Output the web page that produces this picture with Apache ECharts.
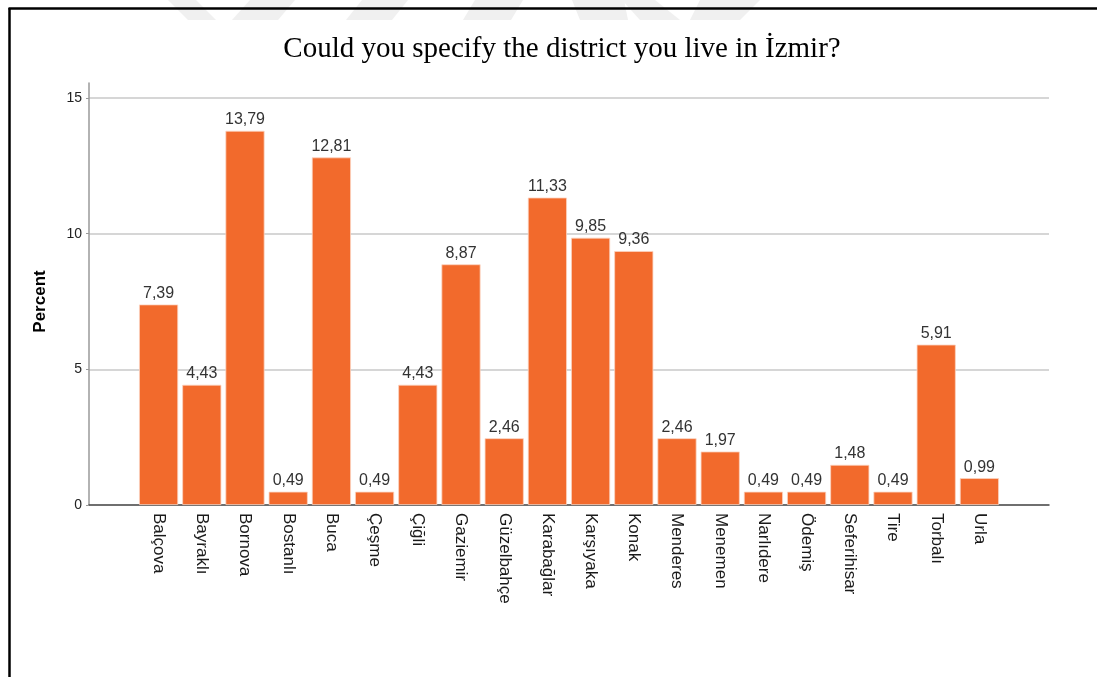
<!DOCTYPE html>
<html>
<head>
<meta charset="utf-8">
<style>
  html, body { margin: 0; padding: 0; background: #fff; }
  #chart { width: 1097px; height: 677px; }
</style>
<script src="https://cdn.jsdelivr.net/npm/echarts@6/dist/echarts.min.js"></script>
</head>
<body>
<div id="chart"></div>
<script>
// District of residence in İzmir, percent of respondents
const districts = ['Balçova', 'Bayraklı', 'Bornova', 'Bostanlı', 'Buca', 'Çeşme', 'Çiğli', 'Gaziemir',
  'Güzelbahçe', 'Karabağlar', 'Karşıyaka', 'Konak', 'Menderes', 'Menemen', 'Narlıdere', 'Ödemiş',
  'Seferihisar', 'Tire', 'Torbalı', 'Urla'];
const percents = [7.39, 4.43, 13.79, 0.49, 12.81, 0.49, 4.43, 8.87, 2.46, 11.33, 9.85, 9.36,
  2.46, 1.97, 0.49, 0.49, 1.48, 0.49, 5.91, 0.99];
const yTicks = [0, 5, 10, 15];

const SANS = '"Liberation Sans", Arial, sans-serif';
const SERIF = '"Liberation Serif", "Times New Roman", serif';
const BAR_COLOR = '#f26a2c';

const chart = echarts.init(document.getElementById('chart'), null, { renderer: 'canvas' });

// Faint background logo stripes along the top edge
const stripe = (pts) => ({
  type: 'polygon', silent: true, z: -10,
  shape: { points: pts }, style: { fill: '#f0f0f0' }
});

chart.setOption({
  animation: false,
  backgroundColor: '#ffffff',
  title: {
    text: 'Could you specify the district you live in İzmir?',
    left: 557, top: 30, textAlign: 'center',
    textStyle: { fontFamily: SERIF, fontSize: 29, fontWeight: 'normal', color: '#000' }
  },
  graphic: [
    stripe([[168, 0], [196, 0], [216, 20], [188, 20]]),
    stripe([[250, 0], [295, 0], [278, 20], [232, 20]]),
    stripe([[362, 0], [408, 0], [392, 20], [346, 20]]),
    stripe([[475, 0], [523, 0], [511, 20], [463, 20]]),
    stripe([[572, 0], [624, 0], [628, 20], [580, 20]]),
    stripe([[622, 0], [655, 0], [680, 20], [640, 20]]),
    stripe([[700, 0], [760, 0], [740, 20], [690, 20]]),
    // outer frame: left and top edges
    { type: 'line', silent: true, z: 100,
      shape: { x1: 9.5, y1: 8, x2: 9.5, y2: 677 }, style: { stroke: '#000', lineWidth: 2.5 } },
    { type: 'line', silent: true, z: 100,
      shape: { x1: 8.5, y1: 8.5, x2: 1097, y2: 8.5 }, style: { stroke: '#000', lineWidth: 2.5 } }
  ],
  grid: [
    // axis frame (y line reaches a little above the top gridline)
    { left: 89, right: 48, top: 83, bottom: 172 },
    // value scale with gridlines
    { left: 89, right: 48, top: 98, bottom: 172 },
    // bars
    { left: 137, width: 864, top: 98, bottom: 172 }
  ],
  xAxis: [
    { gridIndex: 0, type: 'category', data: [''],
      axisLine: { show: true, lineStyle: { color: '#4d4d4d', width: 1.5 } },
      axisTick: { show: false }, axisLabel: { show: false }, splitLine: { show: false } },
    { gridIndex: 1, type: 'category', data: [''], show: false },
    { gridIndex: 2, type: 'category', data: districts,
      axisLine: { show: false }, axisTick: { show: false },
      axisLabel: { rotate: -90, margin: 8, fontFamily: SANS, fontSize: 17, color: '#1a1a1a', interval: 0 } }
  ],
  yAxis: [
    { gridIndex: 0, type: 'value', min: 0, max: 1,
      axisLine: { show: true, lineStyle: { color: '#9a9a9a', width: 1.5 } },
      axisTick: { show: false }, axisLabel: { show: false }, splitLine: { show: false } },
    { gridIndex: 1, type: 'value', min: yTicks[0], max: yTicks[yTicks.length - 1], interval: 5,
      name: 'Percent', nameLocation: 'middle', nameGap: 40,
      nameTextStyle: { fontFamily: SANS, fontSize: 17, fontWeight: 'bold', color: '#000' },
      axisLine: { show: false },
      axisTick: { show: true, length: 3, lineStyle: { color: '#9a9a9a' } },
      axisLabel: { fontFamily: SANS, fontSize: 14, color: '#222', margin: 7 },
      splitLine: { show: true, lineStyle: { color: '#d6d6d6', width: 2 } } },
    { gridIndex: 2, type: 'value', min: yTicks[0], max: yTicks[yTicks.length - 1], show: false }
  ],
  series: [{
    type: 'bar',
    xAxisIndex: 2, yAxisIndex: 2,
    data: percents,
    barCategoryGap: '9.5%',
    itemStyle: { color: BAR_COLOR, borderColor: '#fbd3c0', borderWidth: 0.8 },
    label: {
      show: true, position: 'top', distance: 3,
      fontFamily: SANS, fontSize: 16, color: '#333',
      formatter: (p) => p.value.toFixed(2).replace('.', ',')
    }
  }]
});
</script>
</body>
</html>
